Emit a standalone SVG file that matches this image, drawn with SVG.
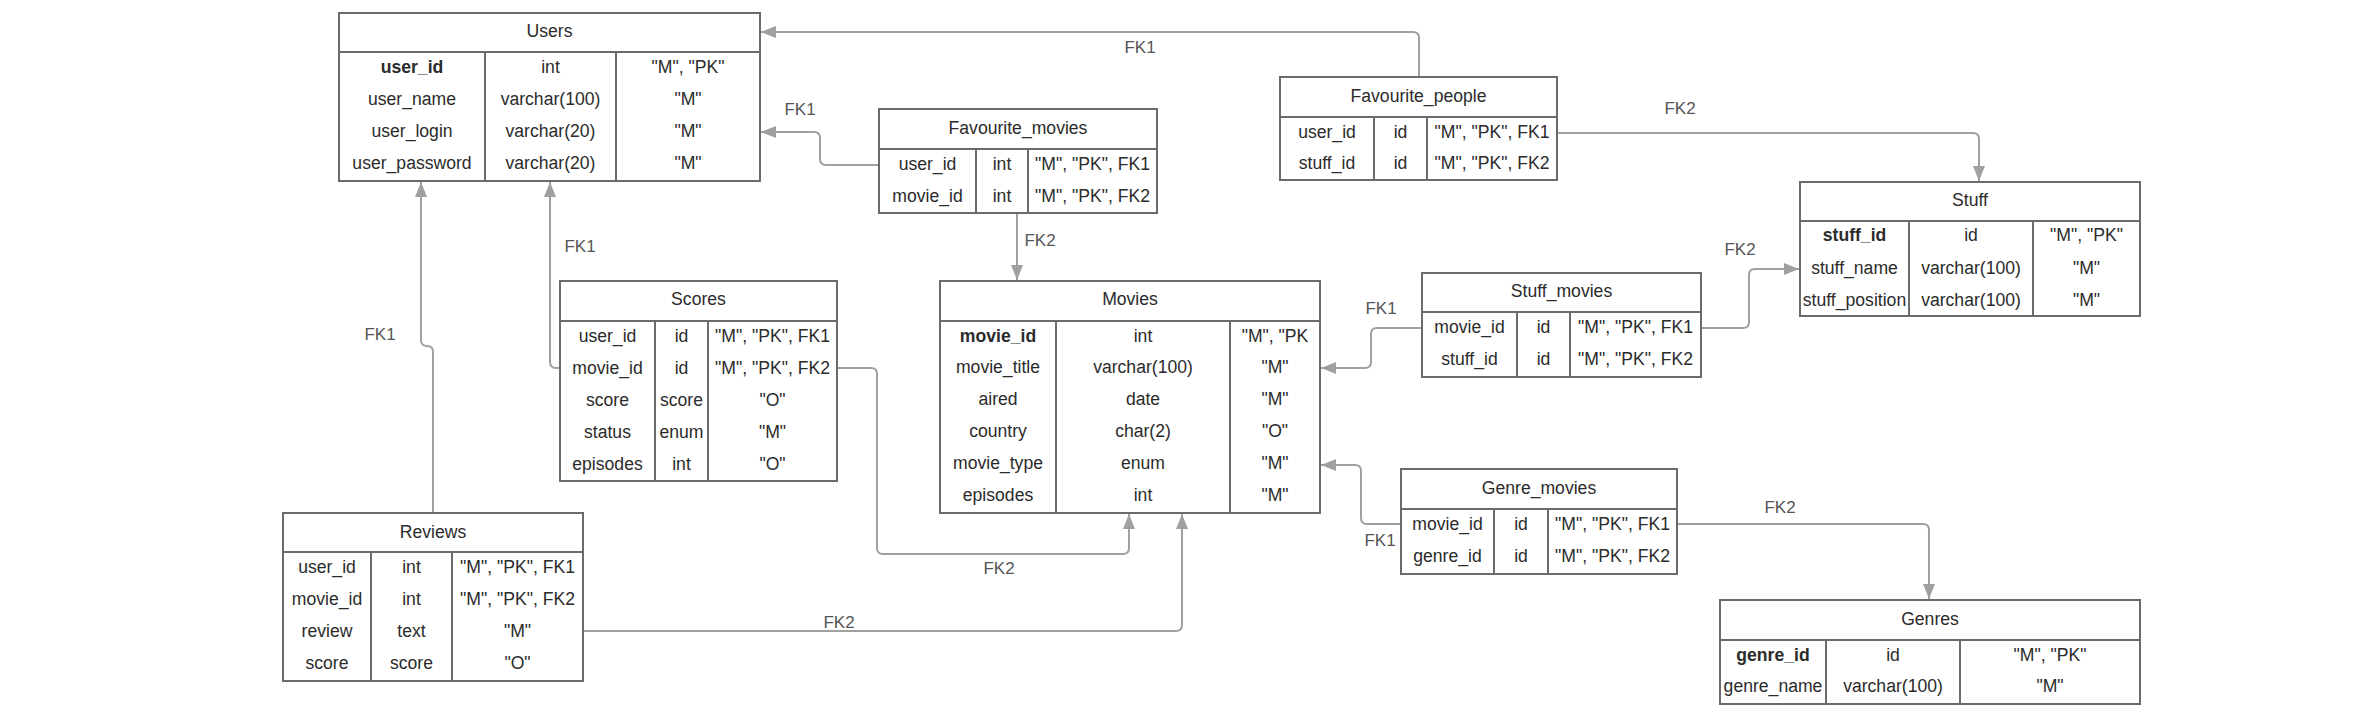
<svg xmlns="http://www.w3.org/2000/svg" width="2367" height="720" viewBox="0 0 2367 720">
<style>
.box{fill:#fff;stroke:#6b6b6b;stroke-width:2}
.ln{stroke:#6b6b6b;stroke-width:2}
text{font-family:"Liberation Sans",Arial,sans-serif;font-size:17.6px;fill:#2b2b2b;text-anchor:middle;dominant-baseline:central}
.b{font-weight:bold}
.c{fill:none;stroke:#a0a0a0;stroke-width:2}
.lbl{fill:#555;font-size:17px}
</style>
<defs>
<marker id="arr" markerUnits="userSpaceOnUse" markerWidth="16" markerHeight="14" viewBox="0 0 16 14" refX="15" refY="7" orient="auto">
<path d="M0,1 L15,7 L0,13 Z" fill="#a0a0a0"/>
</marker>
</defs>
<rect width="2367" height="720" fill="#fff"/>
<g id="connectors">
<path class="c" marker-end="url(#arr)" d="M1419,77 V38 Q1419,32 1413,32 H761"/>
<path class="c" marker-end="url(#arr)" d="M879,165 H826 Q820,165 820,159 V138 Q820,132 814,132 H761"/>
<path class="c" marker-end="url(#arr)" d="M1017,213 V280"/>
<path class="c" marker-end="url(#arr)" d="M1557,133 H1973 Q1979,133 1979,139 V181"/>
<path class="c" marker-end="url(#arr)" d="M1701,328 H1743 Q1749,328 1749,322 V275 Q1749,269 1755,269 H1799"/>
<path class="c" marker-end="url(#arr)" d="M1422,328 H1377 Q1371,328 1371,334 V362 Q1371,368 1365,368 H1321"/>
<path class="c" marker-end="url(#arr)" d="M1401,524 H1367 Q1361,524 1361,518 V471 Q1361,465 1355,465 H1321"/>
<path class="c" marker-end="url(#arr)" d="M1677,524 H1923 Q1929,524 1929,530 V599"/>
<path class="c" marker-end="url(#arr)" d="M560,368 H556 Q550,368 550,362 V182"/>
<path class="c" marker-end="url(#arr)" d="M837,368 H871 Q877,368 877,374 V548 Q877,554 883,554 H1123 Q1129,554 1129,548 V514"/>
<path class="c" marker-end="url(#arr)" d="M433,513 V352 Q433,346 427,346 Q421,346 421,340 V182"/>
<path class="c" marker-end="url(#arr)" d="M583,631 H1176 Q1182,631 1182,625 V514"/>
<text class="lbl" x="1140" y="47">FK1</text>
<text class="lbl" x="800" y="109">FK1</text>
<text class="lbl" x="1040" y="240">FK2</text>
<text class="lbl" x="1680" y="108">FK2</text>
<text class="lbl" x="1740" y="249">FK2</text>
<text class="lbl" x="1381" y="308">FK1</text>
<text class="lbl" x="1380" y="540">FK1</text>
<text class="lbl" x="1780" y="507">FK2</text>
<text class="lbl" x="580" y="246">FK1</text>
<text class="lbl" x="999" y="568">FK2</text>
<text class="lbl" x="380" y="334">FK1</text>
<text class="lbl" x="839" y="622">FK2</text>
</g>
<g id="Users">
<rect class="box" x="339" y="13" width="421" height="168"/>
<line class="ln" x1="339" y1="52" x2="760" y2="52"/>
<line class="ln" x1="485" y1="52" x2="485" y2="181"/>
<line class="ln" x1="616" y1="52" x2="616" y2="181"/>
<text x="549.5" y="31">Users</text>
<text class="b" x="412" y="67">user_id</text><text x="550.5" y="67">int</text><text x="688" y="67">"M", "PK"</text>
<text x="412" y="99">user_name</text><text x="550.5" y="99">varchar(100)</text><text x="688" y="99">"M"</text>
<text x="412" y="131">user_login</text><text x="550.5" y="131">varchar(20)</text><text x="688" y="131">"M"</text>
<text x="412" y="163" fill="#000">user_password</text><text x="550.5" y="163">varchar(20)</text><text x="688" y="163">"M"</text>
</g>
<g id="Favourite_movies">
<rect class="box" x="879" y="109" width="278" height="104"/>
<line class="ln" x1="879" y1="149" x2="1157" y2="149"/>
<line class="ln" x1="976" y1="149" x2="976" y2="213"/>
<line class="ln" x1="1028" y1="149" x2="1028" y2="213"/>
<text x="1018" y="128">Favourite_movies</text>
<text x="927.5" y="164">user_id</text><text x="1002" y="164">int</text><text x="1092.5" y="164">"M", "PK", FK1</text>
<text x="927.5" y="196">movie_id</text><text x="1002" y="196">int</text><text x="1092.5" y="196">"M", "PK", FK2</text>
</g>
<g id="Favourite_people">
<rect class="box" x="1280" y="77" width="277" height="103"/>
<line class="ln" x1="1280" y1="117" x2="1557" y2="117"/>
<line class="ln" x1="1374" y1="117" x2="1374" y2="180"/>
<line class="ln" x1="1427" y1="117" x2="1427" y2="180"/>
<text x="1418.5" y="96">Favourite_people</text>
<text x="1327" y="132">user_id</text><text x="1400.5" y="132">id</text><text x="1492" y="132">"M", "PK", FK1</text>
<text x="1327" y="163">stuff_id</text><text x="1400.5" y="163">id</text><text x="1492" y="163">"M", "PK", FK2</text>
</g>
<g id="Stuff">
<rect class="box" x="1800" y="182" width="340" height="134"/>
<line class="ln" x1="1800" y1="221" x2="2140" y2="221"/>
<line class="ln" x1="1909" y1="221" x2="1909" y2="316"/>
<line class="ln" x1="2033" y1="221" x2="2033" y2="316"/>
<text x="1970" y="200">Stuff</text>
<text class="b" x="1854.5" y="235">stuff_id</text><text x="1971" y="235">id</text><text x="2086.5" y="235">"M", "PK"</text>
<text x="1854.5" y="268">stuff_name</text><text x="1971" y="268">varchar(100)</text><text x="2086.5" y="268">"M"</text>
<text x="1854.5" y="300">stuff_position</text><text x="1971" y="300">varchar(100)</text><text x="2086.5" y="300">"M"</text>
</g>
<g id="Scores">
<rect class="box" x="560" y="281" width="277" height="200"/>
<line class="ln" x1="560" y1="321" x2="837" y2="321"/>
<line class="ln" x1="655" y1="321" x2="655" y2="481"/>
<line class="ln" x1="708" y1="321" x2="708" y2="481"/>
<text x="698.5" y="299">Scores</text>
<text x="607.5" y="336">user_id</text><text x="681.5" y="336">id</text><text x="772.5" y="336">"M", "PK", FK1</text>
<text x="607.5" y="368">movie_id</text><text x="681.5" y="368">id</text><text x="772.5" y="368">"M", "PK", FK2</text>
<text x="607.5" y="400">score</text><text x="681.5" y="400">score</text><text x="772.5" y="400">"O"</text>
<text x="607.5" y="432">status</text><text x="681.5" y="432">enum</text><text x="772.5" y="432">"M"</text>
<text x="607.5" y="464">episodes</text><text x="681.5" y="464">int</text><text x="772.5" y="464">"O"</text>
</g>
<g id="Movies">
<rect class="box" x="940" y="281" width="380" height="232"/>
<line class="ln" x1="940" y1="321" x2="1320" y2="321"/>
<line class="ln" x1="1056" y1="321" x2="1056" y2="513"/>
<line class="ln" x1="1230" y1="321" x2="1230" y2="513"/>
<text x="1130" y="299">Movies</text>
<text class="b" x="998" y="336">movie_id</text><text x="1143" y="336">int</text><text x="1275" y="336">"M", "PK</text>
<text x="998" y="367">movie_title</text><text x="1143" y="367">varchar(100)</text><text x="1275" y="367">"M"</text>
<text x="998" y="399">aired</text><text x="1143" y="399">date</text><text x="1275" y="399">"M"</text>
<text x="998" y="431">country</text><text x="1143" y="431">char(2)</text><text x="1275" y="431">"O"</text>
<text x="998" y="463">movie_type</text><text x="1143" y="463">enum</text><text x="1275" y="463">"M"</text>
<text x="998" y="495">episodes</text><text x="1143" y="495">int</text><text x="1275" y="495">"M"</text>
</g>
<g id="Stuff_movies">
<rect class="box" x="1422" y="273" width="279" height="104"/>
<line class="ln" x1="1422" y1="312" x2="1701" y2="312"/>
<line class="ln" x1="1517" y1="312" x2="1517" y2="377"/>
<line class="ln" x1="1570" y1="312" x2="1570" y2="377"/>
<text x="1561.5" y="291">Stuff_movies</text>
<text x="1469.5" y="327">movie_id</text><text x="1543.5" y="327">id</text><text x="1635.5" y="327">"M", "PK", FK1</text>
<text x="1469.5" y="359">stuff_id</text><text x="1543.5" y="359">id</text><text x="1635.5" y="359">"M", "PK", FK2</text>
</g>
<g id="Genre_movies">
<rect class="box" x="1401" y="469" width="276" height="105"/>
<line class="ln" x1="1401" y1="509" x2="1677" y2="509"/>
<line class="ln" x1="1494" y1="509" x2="1494" y2="574"/>
<line class="ln" x1="1548" y1="509" x2="1548" y2="574"/>
<text x="1539" y="488">Genre_movies</text>
<text x="1447.5" y="524">movie_id</text><text x="1521" y="524">id</text><text x="1612.5" y="524">"M", "PK", FK1</text>
<text x="1447.5" y="556">genre_id</text><text x="1521" y="556">id</text><text x="1612.5" y="556">"M", "PK", FK2</text>
</g>
<g id="Genres">
<rect class="box" x="1720" y="600" width="420" height="104"/>
<line class="ln" x1="1720" y1="640" x2="2140" y2="640"/>
<line class="ln" x1="1826" y1="640" x2="1826" y2="704"/>
<line class="ln" x1="1960" y1="640" x2="1960" y2="704"/>
<text x="1930" y="619">Genres</text>
<text class="b" x="1773" y="655">genre_id</text><text x="1893" y="655">id</text><text x="2050" y="655">"M", "PK"</text>
<text x="1773" y="686">genre_name</text><text x="1893" y="686">varchar(100)</text><text x="2050" y="686">"M"</text>
</g>
<g id="Reviews">
<rect class="box" x="283" y="513" width="300" height="168"/>
<line class="ln" x1="283" y1="552" x2="583" y2="552"/>
<line class="ln" x1="371" y1="552" x2="371" y2="681"/>
<line class="ln" x1="452" y1="552" x2="452" y2="681"/>
<text x="433" y="532">Reviews</text>
<text x="327" y="567">user_id</text><text x="411.5" y="567">int</text><text x="517.5" y="567">"M", "PK", FK1</text>
<text x="327" y="599">movie_id</text><text x="411.5" y="599">int</text><text x="517.5" y="599">"M", "PK", FK2</text>
<text x="327" y="631">review</text><text x="411.5" y="631">text</text><text x="517.5" y="631">"M"</text>
<text x="327" y="663">score</text><text x="411.5" y="663">score</text><text x="517.5" y="663">"O"</text>
</g>
</svg>
